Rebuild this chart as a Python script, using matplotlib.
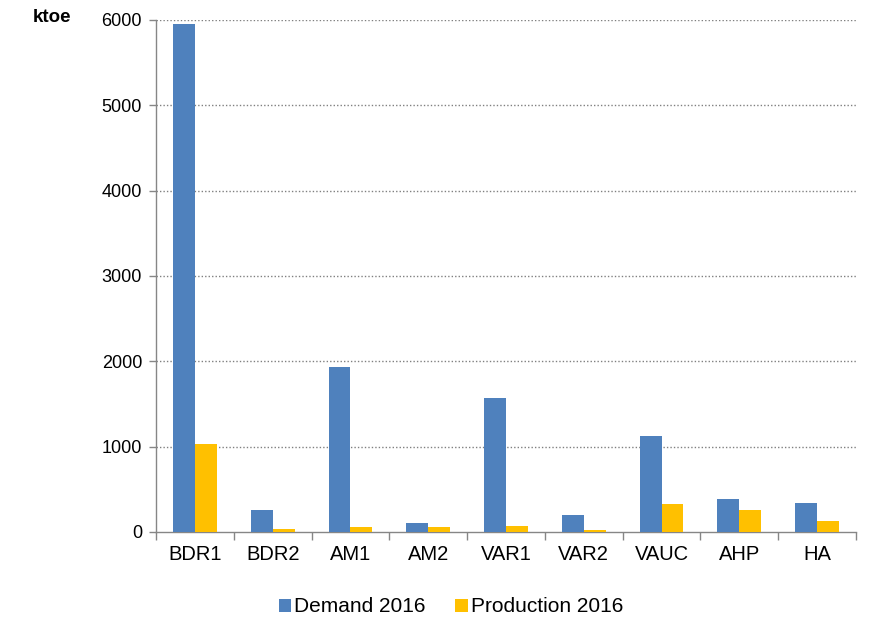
import matplotlib
matplotlib.use("Agg")
import matplotlib.pyplot as plt
import numpy as np

categories = ["BDR1", "BDR2", "AM1", "AM2", "VAR1", "VAR2", "VAUC", "AHP", "HA"]
demand_2016 = [5950, 260, 1930, 100, 1570, 195, 1130, 385, 340]
production_2016 = [1030, 35, 60, 55, 70, 28, 330, 260, 130]
y_ticks = [0, 1000, 2000, 3000, 4000, 5000, 6000]

plt.rcParams['font.family'] = ['Liberation Sans', 'DejaVu Sans']

fig = plt.figure(figsize=(8.72, 6.17), dpi=100)
ax = fig.add_axes([156/872, 1-532/617, (856-156)/872, (532-20)/617])

x = np.arange(len(categories))
w = 0.282
ax.bar(x - w/2, demand_2016, width=w, color="#4F81BD", label="Demand 2016", zorder=3)
ax.bar(x + w/2, production_2016, width=w, color="#FFC000", label="Production 2016", zorder=3)

ax.set_xlim(-0.5, len(categories) - 0.5)
ax.set_ylim(0, 6000)
ax.set_yticks(y_ticks)
ax.set_yticklabels([str(v) for v in y_ticks], fontsize=13)
for v in y_ticks[1:]:
    ax.axhline(v, color="#808080", linestyle=(0, (1, 1.5)), linewidth=1, zorder=1)

ax.set_xticks(x)
ax.set_xticklabels(categories, fontsize=14.5)
ax.tick_params(axis='x', length=0, pad=9)
ax.set_xticks(np.arange(len(categories) + 1) - 0.5, minor=True)
ax.tick_params(axis='x', which='minor', length=6, color="#868686", width=1)
ax.tick_params(axis='y', length=5, color="#868686", width=1, pad=5)

for s in ["top", "right"]:
    ax.spines[s].set_visible(False)
for s in ["left", "bottom"]:
    ax.spines[s].set_color("#868686")
    ax.spines[s].set_linewidth(1)

fig.text(52/872, 1-18/617, "ktoe", fontsize=13.5, fontweight="bold", ha="center", va="center")

fig.legend(loc="center", bbox_to_anchor=(451/872, 1-607/617), ncol=2, frameon=False,
           fontsize=15, handlelength=0.6, handleheight=0.6, handletextpad=0.15,
           columnspacing=1.4)

fig.savefig("out.png", dpi=100)
